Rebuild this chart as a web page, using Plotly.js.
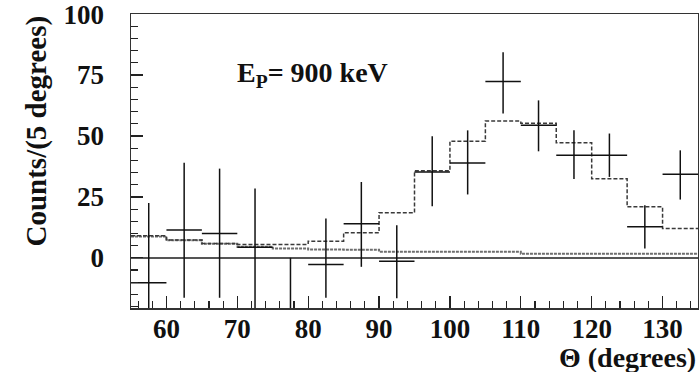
<!DOCTYPE html>
<html>
<head>
<meta charset="utf-8">
<script src="https://cdn.plot.ly/plotly-3.0.1.min.js"></script>
<style>
  html, body { margin: 0; padding: 0; background: #fff; }
  #chart { width: 699px; height: 372px; }
</style>
</head>
<body>
<div id="chart"></div>
<script>
// Data points (bin centres, 5-degree bins)
const theta = [57.5, 62.5, 67.5, 72.5, 77.5, 82.5, 87.5, 92.5, 97.5, 102.5, 107.5, 112.5, 117.5, 122.5, 127.5, 132.5];
const counts = [-10.2, 11.4, 10.0, 4.3, -25.0, -2.7, 14.0, -1.4, 35.2, 38.9, 72.4, 54.4, 42.1, 42.1, 12.7, 34.3];
const errPlus = [32.7, 27.6, 26.6, 24.1, 25.0, 18.8, 17.1, 14.8, 14.7, 13.4, 12.0, 10.2, 10.2, 8.9, 8.9, 9.8];
const errMinus = [32.7, 27.8, 26.4, 25.0, 25.0, 13.7, 17.7, 15.2, 14.0, 12.9, 13.2, 10.7, 9.8, 8.9, 8.9, 10.4];
const binHalf = 2.5;

// Histogram bin edges and contents
const binEdges = [55, 60, 65, 70, 75, 80, 85, 90, 95, 100, 105, 110, 115, 120, 125, 130, 135];
const totalFit = [9.0, 7.3, 5.9, 5.5, 5.5, 6.8, 10.3, 18.5, 35.7, 47.8, 56.1, 55.2, 47.2, 32.4, 20.9, 12.0];
const background = [8.7, 7.2, 5.8, 4.5, 3.8, 3.4, 3.3, 2.5, 2.5, 2.5, 2.5, 1.7, 1.7, 1.7, 1.7, 1.7];

const yTicks = [0, 25, 50, 75, 100];
const xTicks = [60, 70, 80, 90, 100, 110, 120, 130];

function stepY(vals) { return vals.concat([vals[vals.length - 1]]); }

const FONT = 'Liberation Serif, Times New Roman, serif';

const traces = [
  {
    x: binEdges, y: stepY(background), type: 'scatter', mode: 'lines',
    line: { shape: 'hv', color: '#6e6e6e', width: 2, dash: '3px,1px' },
    hoverinfo: 'skip'
  },
  {
    x: binEdges, y: stepY(totalFit), type: 'scatter', mode: 'lines',
    line: { shape: 'hv', color: '#3a3a3a', width: 1.5, dash: '4px,2px' },
    hoverinfo: 'skip'
  },
  {
    x: theta, y: counts, type: 'scatter', mode: 'markers',
    marker: { size: 1, color: '#111' },
    error_x: { type: 'constant', value: binHalf, width: 0, thickness: 1.5, color: '#111' },
    error_y: { type: 'data', array: errPlus, arrayminus: errMinus, symmetric: false, width: 0, thickness: 1.5, color: '#111' }
  }
];

const layout = {
  width: 699, height: 372,
  margin: { l: 131, r: 1, t: 14, b: 64 },
  paper_bgcolor: '#fff', plot_bgcolor: '#fff',
  showlegend: false,
  font: { family: FONT, color: '#111', size: 27, weight: 'bold' },
  xaxis: {
    range: [55, 135],
    tickvals: xTicks, ticktext: xTicks.map(String),
    ticks: 'inside', ticklen: 12, tickwidth: 1.3, tickcolor: '#222',
    minor: { dtick: 2, tick0: 0, ticks: 'inside', ticklen: 7, tickwidth: 1.1, tickcolor: '#222' },
    showgrid: false, zeroline: false,
    showline: true, mirror: true, linecolor: '#333', linewidth: 1.5,
    tickfont: { family: FONT, size: 27, color: '#111', weight: 'bold' },
    ticklabelstandoff: -4
  },
  yaxis: {
    range: [-20.6, 100.05],
    tickvals: yTicks, ticktext: yTicks.map(String),
    ticks: 'inside', ticklen: 12, tickwidth: 1.3, tickcolor: '#222',
    minor: { dtick: 5, tick0: 0, ticks: 'inside', ticklen: 7, tickwidth: 1.1, tickcolor: '#222' },
    showgrid: false,
    zeroline: true, zerolinecolor: '#555', zerolinewidth: 1.5,
    showline: true, mirror: true, linecolor: '#333', linewidth: 1.5,
    tickfont: { family: FONT, size: 27, color: '#111', weight: 'bold' },
    ticklabelstandoff: 20,
    ticklabeloverflow: 'allow'
  },
  annotations: [
    {
      text: 'Counts/(5 degrees)', textangle: -90,
      xref: 'paper', yref: 'paper', x: -0.166, y: 1.003,
      xanchor: 'center', yanchor: 'top', showarrow: false,
      font: { family: FONT, size: 29, color: '#111', weight: 'bold' }
    },
    {
      text: 'Θ (degrees)',
      xref: 'paper', yref: 'paper', x: 1.0, y: -0.17,
      xanchor: 'right', yanchor: 'middle', showarrow: false,
      font: { family: FONT, size: 28, color: '#111', weight: 'bold' }
    },
    {
      text: 'E<sub>P</sub>= 900 keV',
      xref: 'paper', yref: 'paper', x: (235 - 131) / 567, y: (308 - 74) / 294,
      xanchor: 'left', yanchor: 'middle', showarrow: false,
      font: { family: FONT, size: 28, color: '#111', weight: 'bold' }
    }
  ]
};

Plotly.newPlot('chart', traces, layout, { displayModeBar: false, staticPlot: true });
</script>
</body>
</html>
